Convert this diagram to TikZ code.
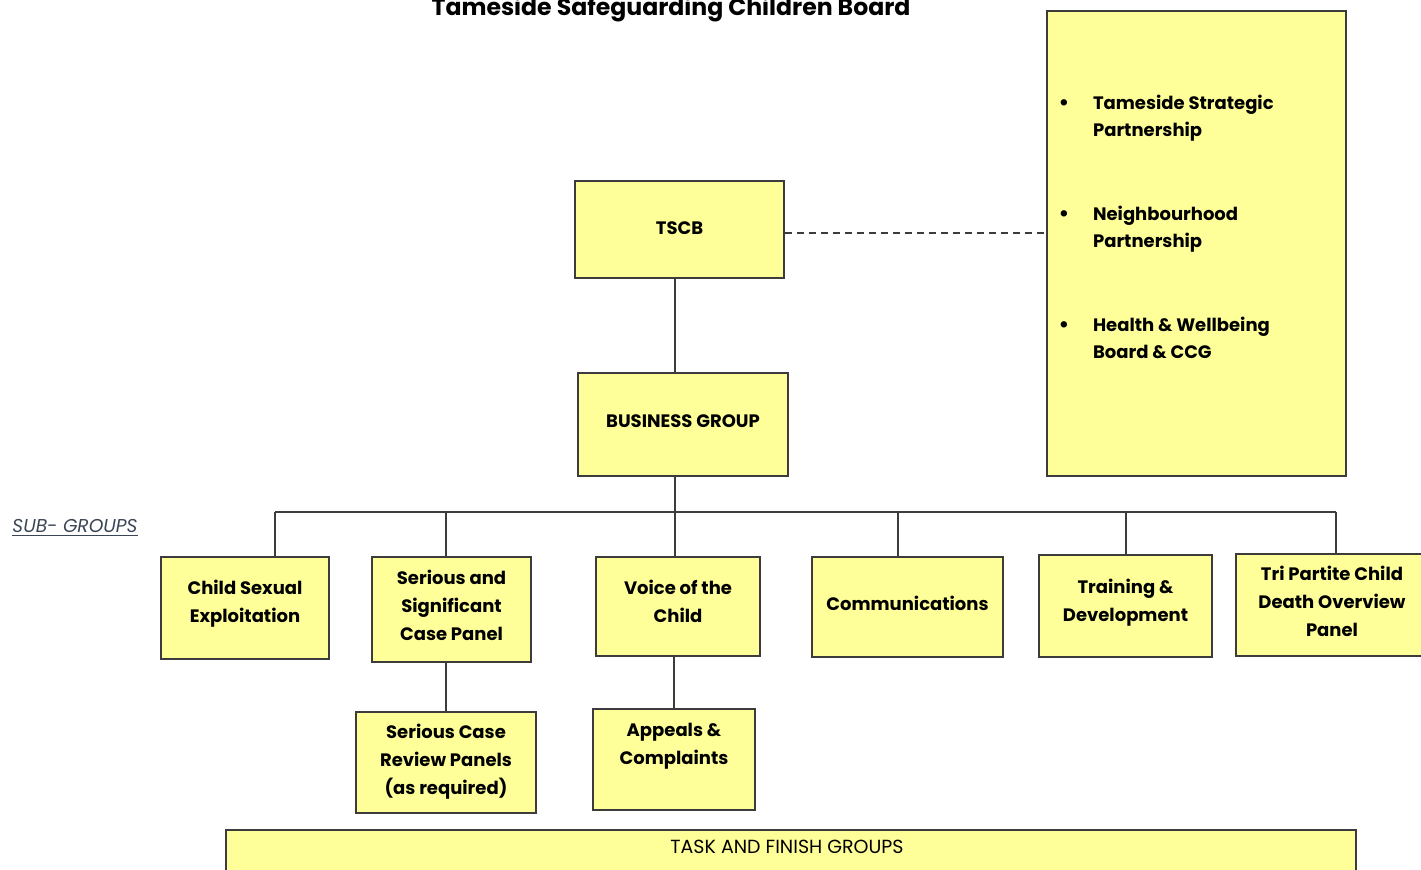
\documentclass[tikz,border=0pt]{standalone}
\usepackage{fontspec}
\setmainfont{Poppins}
\usetikzlibrary{positioning}
\definecolor{boxyellow}{RGB}{255,255,153}
\definecolor{boxline}{RGB}{60,60,60}
\definecolor{subgrey}{RGB}{58,70,86}

\begin{document}
\begin{tikzpicture}[x=0.5pt, y=-0.5pt,
        box/.style={draw=boxline, fill=boxyellow, line width=0.75pt, align=center, inner sep=0pt,
            font=\bfseries\fontsize{9}{14}\selectfont},
        lift/.style={execute at end node={\rule[-#1]{0pt}{0pt}}},
        link/.style={draw=boxline, line width=0.75pt},
        item/.style={anchor=west, align=left, font=\bfseries\fontsize{9}{13.5}\selectfont},
        dot/.style={font=\fontsize{13}{13}\selectfont}]
        \useasboundingbox (0,0) rectangle (1421,870);

        % nodes
        \node[font=\bfseries\fontsize{11.8}{14}\selectfont] (title) at (671,9) {Tameside Safeguarding Children Board};
        \node[box, lift=1pt, minimum width=104.5pt, minimum height=48.5pt] (tscb) at (679.5,229.5) {TSCB};
        \node[box, lift=3pt, minimum width=105pt, minimum height=51.5pt] (business) at (683,424.5) {BUSINESS GROUP};
        \node[box, minimum width=149.5pt, minimum height=232.5pt] (partners) at (1196.5,243.5) {};

        \node[dot] (b1) at (1064,106) {\textbullet};
        \node[dot] (b2) at (1064,217) {\textbullet};
        \node[dot] (b3) at (1064,328) {\textbullet};
        \node[item] (p1) at (1086,118) {Tameside Strategic\\Partnership};
        \node[item] (p2) at (1086,229) {Neighbourhood\\Partnership};
        \node[item] (p3) at (1086,338) {Health \& Wellbeing\\Board \& CCG};

        \node[text=subgrey, font=\itshape\fontsize{9.3}{11}\selectfont] (subgroups) at (75,528) {\underline{SUB- GROUPS}};

        \node[box, lift=7pt, minimum width=84pt, minimum height=51pt] (cse) at (245,608) {Child Sexual\\Exploitation};
        \node[box, lift=4pt, minimum width=79.5pt, minimum height=52.5pt] (serious) at (451.5,609.5) {Serious and\\Significant\\Case Panel};
        \node[box, lift=5pt, minimum width=82pt, minimum height=49.5pt] (voice) at (678,606.5) {Voice of the\\Child};
        \node[box, lift=3.5pt, minimum width=95.5pt, minimum height=50pt] (comms) at (907.5,607) {Communications};
        \node[box, lift=6pt, minimum width=86.5pt, minimum height=51pt] (training) at (1125.5,606) {Training \&\\Development};
        \node[box, lift=4pt, minimum width=96pt, minimum height=51pt] (tripartite) at (1332,605) {Tri Partite Child\\Death Overview\\Panel};

        \node[box, lift=3pt, minimum width=90pt, minimum height=50.5pt] (review) at (446,762.5) {Serious Case\\Review Panels\\(as required)};
        \node[box, lift=16pt, minimum width=81pt, minimum height=50.5pt] (appeals) at (674,759.5) {Appeals \&\\Complaints};

        \node[box, minimum width=565pt, minimum height=35pt] (taskbox) at (791,865) {};
        \node[font=\fontsize{9.5}{10}\selectfont] (tasks) at (787,847) {TASK AND FINISH GROUPS};

        % edges
        \coordinate (bus) at (675,512);
        \draw[link] (tscb.south -| bus) -- (business.north -| bus);
        \draw[link, dash pattern=on 3.5pt off 2.5pt] ([yshift=-1.75pt]tscb.east) -- ([yshift=-1.75pt]tscb.east -| partners.west);
        \draw[link] (business.south -| bus) -- (bus);
        \draw[link] (275,512) coordinate (busL) -- (1336,512) coordinate (busR);
        \foreach \n/\x in {cse/275, serious/446, voice/675, comms/898, training/1126, tripartite/1336} {
            \coordinate (d\n) at (\x,512);
            \draw[link] (d\n) -- (d\n |- \n.north);
        }
        \draw[link] (serious.south -| review.north) -- (review.north);
        \draw[link] (voice.south -| appeals.north) -- (appeals.north);

    \end{tikzpicture}
\end{document}
